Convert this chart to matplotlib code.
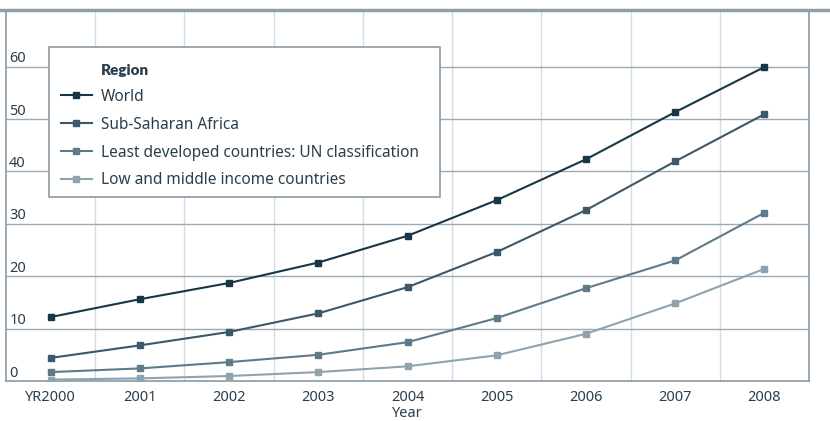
import matplotlib
matplotlib.use("Agg")
import matplotlib.pyplot as plt
from matplotlib.lines import Line2D
from matplotlib.patches import Rectangle

plt.rcParams['font.family'] = ['Noto Sans', 'DejaVu Sans']

years = ["YR2000", "2001", "2002", "2003", "2004", "2005", "2006", "2007", "2008"]
world = [12.2, 15.6, 18.7, 22.6, 27.7, 34.5, 42.3, 51.3, 59.9]
ssa = [4.4, 6.8, 9.35, 12.9, 17.9, 24.6, 32.6, 41.9, 50.9]
ldc = [1.7, 2.4, 3.6, 5.0, 7.4, 12.0, 17.7, 23.0, 32.1]
lmic = [0.27, 0.5, 0.95, 1.7, 2.8, 4.9, 9.0, 14.8, 21.4]
names = ["World", "Sub-Saharan Africa", "Least developed countries: UN classification",
         "Low and middle income countries"]
colors = ["#173746", "#3d5868", "#5f7a88", "#8fa3ae"]
yticks = [0, 10, 20, 30, 40, 50, 60]

txt = "#2b3e4c"
W, H = 830, 421
fig = plt.figure(figsize=(W / 100, H / 100), dpi=100)
ax = fig.add_axes([6/W, 40/H, 803/W, 369/H])

x = list(range(len(years)))
lines = []
for vals, c, n in zip([world, ssa, ldc, lmic], colors, names):
    ln, = ax.plot(x, vals, color=c, lw=1.5, marker="s", ms=5, label=n, zorder=3)
    lines.append(ln)

ax.set_xlim(-0.5, len(years) - 0.5)
ax.set_ylim(0, 70.4)
for b in range(1, len(years)):
    ax.axvline(b - 0.5, color="#d3dce2", lw=1, zorder=1)
for t in yticks[1:]:
    ax.axhline(t, color="#9aabb5", lw=1, zorder=1)
for t in yticks:
    ax.text(0.004, t + 0.05, str(t), transform=ax.get_yaxis_transform(),
            ha="left", va="bottom", fontsize=10.5, color=txt)

ax.set_yticks([])
ax.set_xticks(x)
ax.set_xticklabels(years, fontsize=10.5, color=txt)
ax.tick_params(axis="x", length=0, pad=6.5)
ax.set_xlabel("Year", fontsize=10.5, color=txt, labelpad=0.5)
for s in ["left", "bottom", "right"]:
    ax.spines[s].set_color("#8a9aa5")
    ax.spines[s].set_linewidth(1.2)
ax.spines["top"].set_visible(False)

fig.add_artist(Line2D([0, 1], [411/H, 411/H], transform=fig.transFigure,
                      color="#8fa0a8", lw=2.5))

# legend box drawn by hand (padding is uneven in the original)
fig.add_artist(Rectangle((49/W, 1 - 197/H), 391/W, 150/H, transform=fig.transFigure,
                         facecolor="white", edgecolor="#8a9aa5", lw=1.2, zorder=4))

# title row as an entry without a handle so it lines up with the labels
blank = Line2D([], [], color="none")
leg = fig.legend([blank] + lines, ["Region"] + names,
                 loc="upper left", bbox_to_anchor=(61/W, 1 - 64/H),
                 fontsize=11.1, frameon=False, borderpad=0,
                 labelspacing=0.77, handlelength=2.0, handletextpad=0.59,
                 borderaxespad=0)
leg.set_zorder(5)
texts = leg.get_texts()
texts[0].set_fontfamily(["Lato", "Open Sans", "DejaVu Sans"])
texts[0].set_fontweight("heavy")
texts[0].set_fontsize(11)
for t in texts:
    t.set_color(txt)

fig.savefig("out.png", dpi=100)
